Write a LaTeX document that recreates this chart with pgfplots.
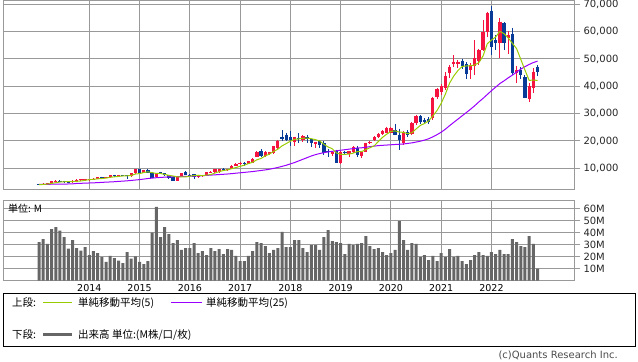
\documentclass[border=0pt]{standalone}
\usepackage{pgfplots}
\pgfplotsset{compat=1.18}
\usepackage{pgfplotstable}
\usepackage{fontspec}
\setmainfont{DejaVu Sans}
\newfontfamily\cjk{Noto Sans CJK JP}
\definecolor{cred}{HTML}{F5143F}
\definecolor{cblue}{HTML}{083A98}
\definecolor{cgreen}{HTML}{99CC00}
\definecolor{cpurple}{HTML}{9900FF}
\definecolor{cgrid}{HTML}{999999}
\definecolor{cvol}{HTML}{666666}

\pgfplotstableread{
i O H L C
1 4100 4500 3800 4400
2 4350 4600 4200 4500
3 4450 5500 4400 5300
4 5300 5600 5100 5400
8 4800 5700 4700 5400
9 5300 6000 5200 5800
10 5700 6100 5500 5900
11 5600 6200 5500 6100
12 5700 6100 5400 5900
13 5800 6300 5600 6100
14 6100 6800 6000 6700
16 6500 6900 6300 6800
17 6700 7600 6600 7400
19 7000 7600 6800 7400
22 7000 8300 6900 8100
23 8100 9900 8000 9600
25 8300 9500 8100 9300
28 6700 8200 6600 8100
33 5500 6900 5400 6700
34 7200 8200 7000 8100
38 6900 7400 6600 7200
39 7100 7600 6900 7400
40 7200 8600 7000 8500
41 8300 8900 8200 8600
42 8500 9800 8400 9600
43 8600 9900 8400 9700
45 9300 9800 9100 9600
46 9900 11100 9800 10900
47 10800 11800 10700 11600
48 11400 12300 11200 12050
50 11550 12800 11400 12650
51 12050 13650 11900 13300
52 14250 16300 14000 16080
54 14500 16200 14300 16080
55 15100 16100 14800 16000
56 15470 18300 15200 18150
57 17300 20300 17100 20100
61 19740 21600 18280 21570
63 20350 22000 19500 21800
66 18890 19740 17300 19740
70 15200 16400 14600 16100
72 11820 16200 11500 16070
74 15200 16500 14300 16200
75 16100 18200 15700 17900
77 14600 16400 13900 16000
78 16100 19300 15900 19100
79 19100 20000 18800 19700
80 20200 21800 19900 21400
81 21300 22900 21000 22700
82 22500 23900 22300 23700
83 23000 25200 22800 24900
84 23000 25000 22900 24800
87 19300 23800 18500 23400
89 22400 27000 22000 26700
90 26700 29500 26000 29100
94 28300 36200 27500 35800
95 36000 39300 35500 38900
96 37900 40800 37000 40100
97 39300 45300 38500 43800
98 44750 47800 42900 47190
99 48200 51400 47200 48900
100 48200 49500 46800 48900
103 46000 48400 42600 47700
104 47600 56900 44100 50200
105 49400 53500 47800 53300
106 53300 64200 53000 60000
107 60000 67300 58200 66700
110 55700 64900 50300 63700
112 57600 60200 52000 58800
114 44700 47500 41100 46000
117 35200 41100 34400 40100
118 39300 46600 37400 45400
}\upT

\pgfplotstableread{
i O H L C
0 4150 4300 3950 4050
5 5450 5600 5100 5250
6 5300 5500 4700 4850
7 4900 5200 4700 4800
15 6700 6900 6300 6500
18 7500 7700 6900 7000
20 7500 7600 7200 7350
21 7400 7500 6200 7000
24 9600 9800 8000 8200
26 9400 9700 8100 8300
27 8400 8500 6500 6600
29 8500 8800 7900 8150
30 8150 8200 7300 7700
31 7500 7700 6200 6400
32 6700 6800 5300 5500
35 8700 8900 7400 7550
36 7700 7900 7200 7500
37 7800 8000 5900 6900
44 9800 10000 9300 9500
49 11800 12200 10950 11450
53 16450 16900 14200 14500
58 21300 24000 20100 20600
59 22180 23000 20000 20350
60 21570 23650 18280 20350
62 21200 22790 19130 20800
64 21570 22180 19130 20600
65 20600 20800 17910 19370
67 20100 20400 17300 18500
68 19200 20000 15000 15600
69 16500 16900 14300 15800
71 16430 16800 11800 12050
73 16100 16500 15200 15500
76 17300 18000 14300 14900
85 24000 26200 22000 22300
86 22300 24500 16700 20400
88 23200 24000 21500 22300
91 29100 29400 26200 26800
92 27700 28300 26500 27000
93 28200 28700 26300 27100
101 49400 50100 46500 47600
102 48000 48800 42500 44600
108 67700 69400 51500 54500
109 57000 58800 53300 55700
111 63300 63500 53300 55700
113 59000 61200 44100 44700
115 46000 47000 42500 44100
116 43400 44000 35600 35900
119 47200 47800 43800 45300
}\downT

\pgfplotstableread{
i m5 m25
0 3990 4100
1 4090 4120
2 4200 4140
3 4460 4160
4 4730 4180
5 4970 4200
6 5060 4220
7 5120 4250
8 5140 4300
9 5220 4450
10 5350 4500
11 5600 4560
12 5820 4620
13 5960 4680
14 6140 4740
15 6260 4850
16 6400 4920
17 6700 5000
18 6880 5080
19 7020 5200
20 7190 5300
21 7230 5400
22 7370 5550
23 7890 5700
24 8050 5850
25 8440 6050
26 8700 6250
27 8400 6400
28 8100 6550
29 8090 6650
30 7770 6750
31 7390 6850
32 7170 6900
33 6890 6950
34 6880 7000
35 6850 7050
36 7070 7100
37 7350 7150
38 7450 7200
39 7310 7300
40 7500 7400
41 7720 7500
42 8260 7600
43 8760 7700
44 9180 7800
45 9400 7900
46 9860 8050
47 10260 8200
48 10730 8350
49 11120 8500
50 11730 8650
51 12210 8800
52 13106 9000
53 13596 9200
54 14522 9400
55 15192 9650
56 16162 9950
57 16966 10300
58 18186 10700
59 19040 11100
60 19910 11600
61 20594 12100
62 20734 12700
63 20974 13300
64 21024 13900
65 20828 14500
66 20462 15000
67 20002 15400
68 18762 15700
69 17802 16000
70 17148 16200
71 15610 16400
72 15124 16600
73 15104 16800
74 15184 17000
75 15544 17200
76 16114 17400
77 16100 17500
78 16820 17700
79 17520 17900
80 18220 18100
81 19780 18300
82 21320 18400
83 22480 18500
84 23500 18600
85 23680 18700
86 23220 18800
87 23160 18900
88 22640 19100
89 23020 19300
90 24380 19600
91 25660 19900
92 26380 20300
93 27340 20800
94 29160 21500
95 31120 22300
96 33780 23200
97 37140 24300
98 41158 25600
99 43778 26800
100 45778 28000
101 47278 29200
102 47438 30400
103 47540 31600
104 47800 32900
105 48680 34300
106 51160 35600
107 55580 37000
108 56940 38400
109 58040 39700
110 60120 41000
111 59260 42000
112 57680 43100
113 55720 44100
114 53780 45200
115 49860 46300
116 45900 47200
117 42160 48000
118 42292 48700
119 42152 49200
}\maT

\pgfplotstableread{
i v
0 32.2
1 34.7
2 30.6
3 43
4 44.7
5 41.7
6 36.4
7 26.7
8 33.9
9 27.2
10 25
11 28
12 21.4
13 24.7
14 23
15 19.7
16 15.6
17 20.6
18 18.9
19 16.7
20 14.7
21 23.9
22 18.3
23 20.3
24 15.6
25 13.9
26 16.4
27 40
28 61.4
29 36.4
30 44.7
31 38.9
32 31.4
33 33.9
34 25.6
35 27.2
36 27.2
37 31.4
38 23
39 24.7
40 21.4
41 27.2
42 24.7
43 26.4
44 22.2
45 26.4
46 25.6
47 20.6
48 16.4
49 16.4
50 20.6
51 24.7
52 32.2
53 31.4
54 28.9
55 23
56 25.6
57 27.2
58 40.6
59 28
60 28
61 33.9
62 33.9
63 27.2
64 23.9
65 29.7
66 29.7
67 25.6
68 36.4
69 42.2
70 33
71 32.2
72 31.4
73 22.2
74 30.6
75 29.7
76 30.6
77 31.4
78 37.2
79 28.9
80 26.4
81 27.2
82 23.9
83 21.4
84 23
85 25.6
86 49.7
87 33.9
88 25.6
89 31.4
90 30.6
91 19.7
92 21.4
93 17.2
94 20.6
95 16.4
96 23
97 19.7
98 26.4
99 19.7
100 20.6
101 16.4
102 13.9
103 17.2
104 21.4
105 23.9
106 21.4
107 20.6
108 23.9
109 22.2
110 25.6
111 22.2
112 22.2
113 34.7
114 32.2
115 28.9
116 28
117 37.2
118 30.6
119 10
}\volT

\pgfplotsset{
  panel/.style={
    scale only axis, anchor=south west,
    xmin=-8.6, xmax=127.7,
    axis line style={cgrid, line width=1bp},
    grid=major, major grid style={cgrid, line width=1bp},
    xtick={12,24,...,108},
    ytick pos=right, yticklabel pos=right,
    tick align=outside, major tick length=6bp,
    every tick/.style={cgrid, line width=1bp},
    xtick style={draw=none},
    yticklabel style={font=\fontsize{10bp}{12bp}\selectfont, text=black!85, anchor=west},
    /pgf/number format/assume math mode=true,
  },
  wick/.style={draw=none, mark=none, forget plot,
    error bars/.cd, y dir=minus, y explicit, error mark=none,
    error bar style={draw=#1, line width=1bp}},
  body/.style={draw=none, mark=none, forget plot,
    error bars/.cd, y dir=minus, y explicit, error mark=none,
    error bar style={draw=#1, line width=3.3bp}},
}

\begin{document}
\begin{tikzpicture}
\path[use as bounding box] (0bp,0bp) rectangle (638bp,362bp);
\begin{axis}[panel,
  at={(3bp,172bp)}, width=571bp, height=189bp,
  ymin=2050, ymax=71220,
  ytick={10000,20000,...,70000},
  xticklabels={},
  scaled y ticks=false,
  /pgf/number format/1000 sep={,},
]
\addplot[wick=cblue] table[x=i, y=H, y error minus expr=\thisrow{H}-\thisrow{L}] {\downT};
\addplot[wick=cred] table[x=i, y=H, y error minus expr=\thisrow{H}-\thisrow{L}] {\upT};
\addplot[body=cblue] table[x=i, y=O, y error minus expr=\thisrow{O}-\thisrow{C}] {\downT};
\addplot[body=cred] table[x=i, y=C, y error minus expr=\thisrow{C}-\thisrow{O}] {\upT};
\addplot[cpurple, line width=1bp, mark=none] table[x=i, y=m25] {\maT};
\addplot[cgreen, line width=1bp, mark=none] table[x=i, y=m5] {\maT};
\end{axis}

\begin{axis}[panel,
  at={(3bp,81.3bp)}, width=571bp, height=79.7bp,
  ymin=0, ymax=66.4,
  ytick={10,20,...,60},
  yticklabels={10M,20M,30M,40M,50M,60M},
  xticklabels={2014,2015,2016,2017,2018,2019,2020,2021,2022},
  xticklabel style={font=\fontsize{9.5bp}{11bp}\selectfont, text=black, anchor=north, inner sep=0pt, yshift=2.5bp},
]
\addplot[ybar, bar width=3bp, fill=cvol, draw=none] table[x=i, y=v] {\volT};
\end{axis}

\node[anchor=west, inner sep=0pt, font=\cjk\fontsize{10bp}{12bp}\selectfont] at (8bp,153bp) {単位: M};

\draw[black, line width=1bp] (3bp,68bp) rectangle (635bp,15bp);
\begin{scope}[every node/.style={anchor=west, inner sep=0pt, font=\cjk\fontsize{10.5bp}{12bp}\selectfont}]
\node at (12bp,59bp) {上段:};
\draw[cgreen, line width=1bp] (43bp,59bp) -- (72bp,59bp);
\node at (78bp,59bp) {単純移動平均(5)};
\draw[cpurple, line width=1bp] (171bp,59bp) -- (202bp,59bp);
\node at (206bp,59bp) {単純移動平均(25)};
\node at (12bp,27bp) {下段:};
\draw[cvol, line width=3bp] (43bp,27bp) -- (72bp,27bp);
\node at (78bp,27bp) {出来高 単位:(M株/口/枚)};
\end{scope}
\node[anchor=east, inner sep=0pt, text=black!70, font=\fontsize{10bp}{12bp}\selectfont] at (618bp,7bp) {(c)Quants Research Inc.};
\end{tikzpicture}
\end{document}
